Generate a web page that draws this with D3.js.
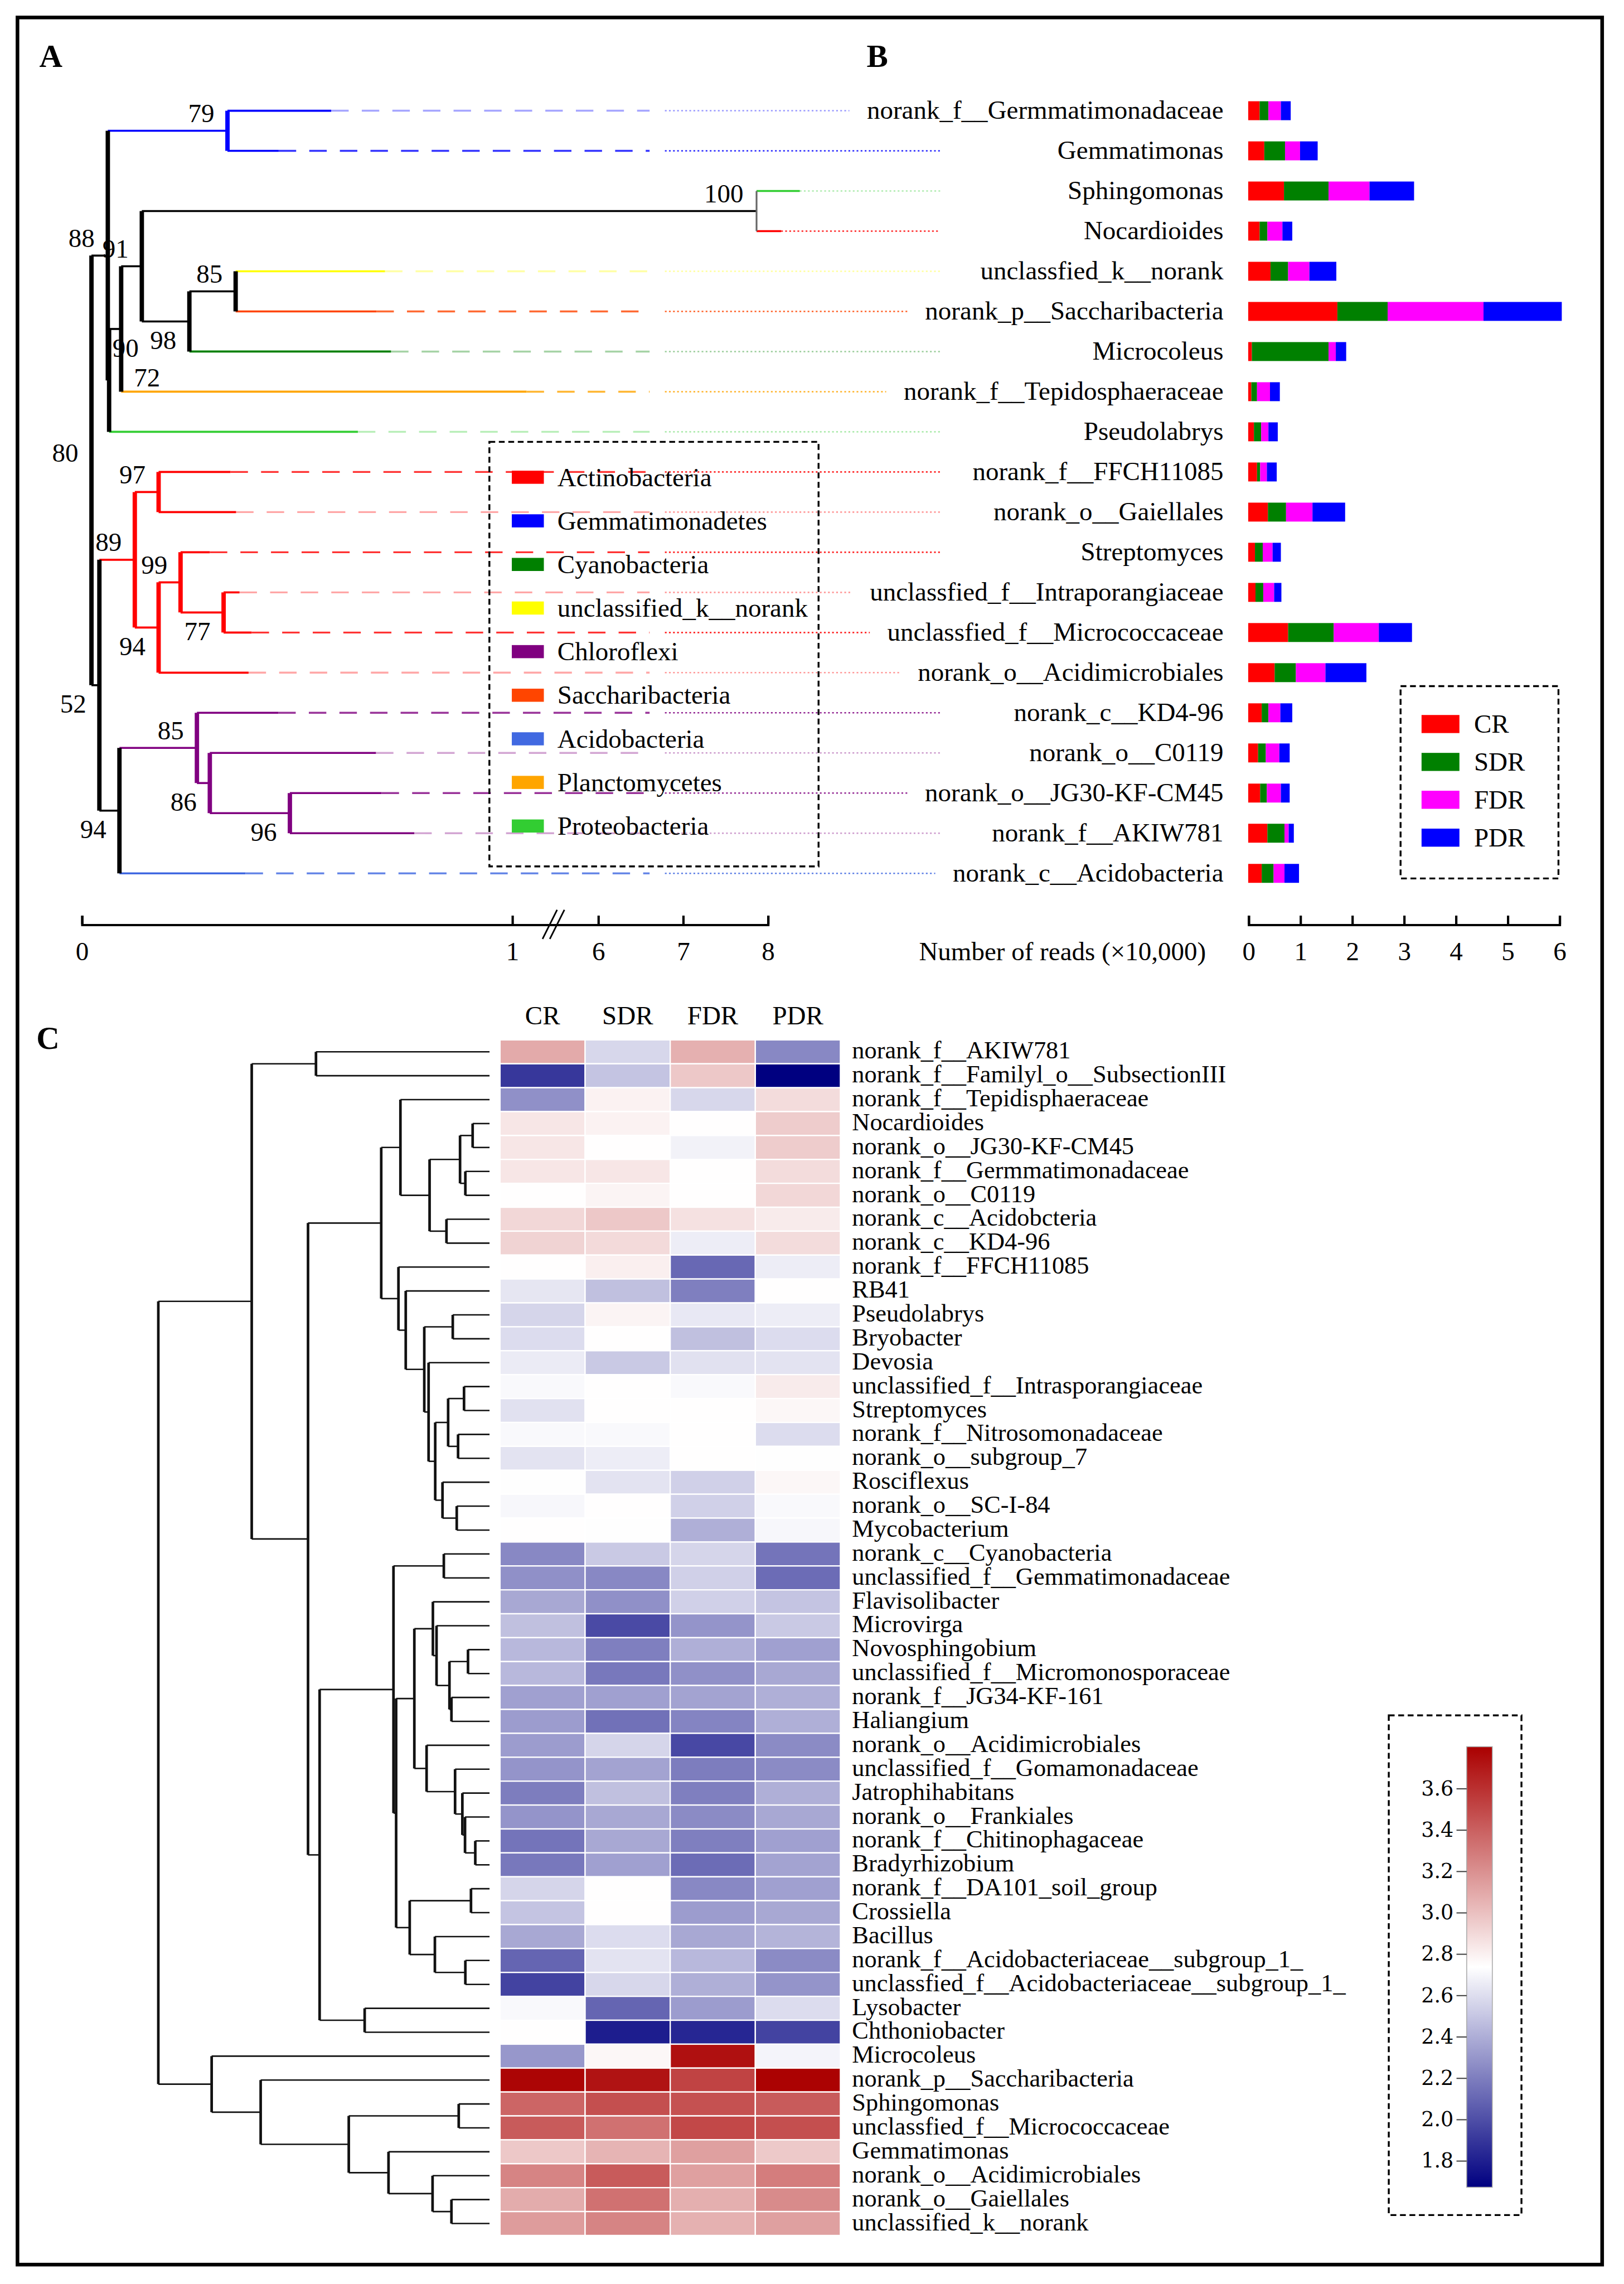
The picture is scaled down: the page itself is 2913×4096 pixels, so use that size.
<!DOCTYPE html>
<html>
<head>
<meta charset="utf-8">
<script src="https://d3js.org/d3.v7.min.js"></script>
<style>
body { margin: 0; background: #fff; }
svg text { font-family: "Liberation Serif", "Times New Roman", serif; }
</style>
</head>
<body>
<svg id="fig" width="2913" height="4096"></svg>
<script>
// ---------- data: panel A / B ----------
var phyla = ['Actinobacteria', 'Gemmatimonadetes', 'Cyanobacteria', 'unclassified_k__norank', 'Chloroflexi',
    'Saccharibacteria', 'Acidobacteria', 'Planctomycetes', 'Proteobacteria'];
var phylumColors = ['#ff0000', '#0000ff', '#008000', '#ffff00', '#800080', '#ff4500', '#4169e1', '#ffa500', '#32cd32'];

var genera = ['norank_f__Germmatimonadaceae', 'Gemmatimonas', 'Sphingomonas', 'Nocardioides', 'unclassfied_k__norank',
    'norank_p__Saccharibacteria', 'Microcoleus', 'norank_f__Tepidosphaeraceae', 'Pseudolabrys', 'norank_f__FFCH11085',
    'norank_o__Gaiellales', 'Streptomyces', 'unclassfied_f__Intraporangiaceae', 'unclassfied_f__Micrococcaceae',
    'norank_o__Acidimicrobiales', 'norank_c__KD4-96', 'norank_o__C0119', 'norank_o__JG30-KF-CM45',
    'norank_f__AKIW781', 'norank_c__Acidobacteria'];
var generaPhylum = [1, 1, 8, 0, 3, 5, 2, 7, 8, 0, 0, 0, 0, 0, 0, 4, 4, 4, 4, 6];

var treatments = ['CR', 'SDR', 'FDR', 'PDR'];
var treatColors = ['#ff0000', '#008000', '#ff00ff', '#0000ff'];
// number of reads (x10,000)
var readsCR  = [0.22, 0.31, 0.69, 0.22, 0.43, 1.72, 0.07, 0.06, 0.11, 0.17, 0.38, 0.13, 0.14, 0.77, 0.51, 0.26, 0.19, 0.23, 0.37, 0.26];
var readsSDR = [0.17, 0.40, 0.86, 0.15, 0.34, 0.97, 1.48, 0.11, 0.14, 0.06, 0.35, 0.15, 0.15, 0.88, 0.41, 0.13, 0.15, 0.13, 0.33, 0.23];
var readsFDR = [0.24, 0.29, 0.79, 0.29, 0.41, 1.85, 0.14, 0.25, 0.14, 0.13, 0.51, 0.19, 0.21, 0.87, 0.57, 0.23, 0.26, 0.27, 0.08, 0.21];
var readsPDR = [0.19, 0.34, 0.86, 0.19, 0.52, 1.51, 0.20, 0.19, 0.18, 0.19, 0.63, 0.16, 0.14, 0.64, 0.79, 0.23, 0.20, 0.17, 0.10, 0.28];

// phylogenetic tree: s = bootstrap, d = distance from origin, i = leaf row, lp = label placement
var treeA = {s: 80, d: 0.023, lp: 'a', c: [
    {s: 88, d: 0.061, lp: 'a', c: [
        {s: 79, d: 0.339, lp: 'a', c: [{i: 0, d: 0.580}, {i: 1, d: 0.458}]},
        {s: 72, d: 0.064, lp: 'r', c: [
            {s: 90, d: 0.092, lp: 'bm', c: [
                {s: 91, d: 0.140, lp: 'a', c: [
                    {s: 100, d: 7.87, lp: 'a', c: [{i: 2, d: 8.38}, {i: 3, d: 8.16}]},
                    {s: 98, d: 0.2505, lp: 'b', c: [
                        {s: 85, d: 0.358, lp: 'a', c: [{i: 4, d: 0.705}, {i: 5, d: 0.685}]},
                        {i: 6, d: 0.719}]}]},
                {i: 7, d: 1.85}]},
            {i: 8, d: 0.642}]}]},
    {s: 52, d: 0.0414, lp: 'b', c: [
        {s: 89, d: 0.1237, lp: 'a', c: [
            {s: 97, d: 0.179, lp: 'a', c: [{i: 9, d: 0.346}, {i: 10, d: 0.359}]},
            {s: 94, d: 0.179, lp: 'b', c: [
                {s: 99, d: 0.230, lp: 'a', c: [
                    {i: 11, d: 0.298},
                    {s: 77, d: 0.330, lp: 'b', c: [{i: 12, d: 0.367}, {i: 13, d: 0.395}]}]},
                {i: 14, d: 0.388}]}]},
        {s: 94, d: 0.088, lp: 'b', c: [
            {s: 85, d: 0.268, lp: 'a', c: [
                {i: 15, d: 0.457},
                {s: 86, d: 0.298, lp: 'b', c: [
                    {i: 16, d: 0.684},
                    {s: 96, d: 0.484, lp: 'b', c: [{i: 17, d: 0.697}, {i: 18, d: 0.773}]}]}]},
            {i: 19, d: 0.381}]}]}]};
var treeTicks = [0, 1, 6, 7, 8];
var readTicks = [0, 1, 2, 3, 4, 5, 6];

// ---------- data: panel C ----------
var heatRows = ['norank_f__AKIW781', 'norank_f__Familyl_o__SubsectionIII', 'norank_f__Tepidisphaeraceae', 'Nocardioides',
    'norank_o__JG30-KF-CM45', 'norank_f__Germmatimonadaceae', 'norank_o__C0119', 'norank_c__Acidobcteria',
    'norank_c__KD4-96', 'norank_f__FFCH11085', 'RB41', 'Pseudolabrys', 'Bryobacter', 'Devosia',
    'unclassified_f__Intrasporangiaceae', 'Streptomyces', 'norank_f__Nitrosomonadaceae', 'norank_o__subgroup_7',
    'Rosciflexus', 'norank_o__SC-I-84', 'Mycobacterium', 'norank_c__Cyanobacteria',
    'unclassified_f__Gemmatimonadaceae', 'Flavisolibacter', 'Microvirga', 'Novosphingobium',
    'unclassified_f__Micromonosporaceae', 'norank_f__JG34-KF-161', 'Haliangium', 'norank_o__Acidimicrobiales',
    'unclassified_f__Gomamonadaceae', 'Jatrophihabitans', 'norank_o__Frankiales', 'norank_f__Chitinophagaceae',
    'Bradyrhizobium', 'norank_f__DA101_soil_group', 'Crossiella', 'Bacillus',
    'norank_f__Acidobacteriaceae__subgroup_1_', 'unclassfied_f__Acidobacteriaceae__subgroup_1_', 'Lysobacter',
    'Chthoniobacter', 'Microcoleus', 'norank_p__Saccharibacteria', 'Sphingomonas', 'unclassfied_f__Micrococcaceae',
    'Gemmatimonas', 'norank_o__Acidimicrobiales', 'norank_o__Gaiellales', 'unclassified_k__norank'];
var heatCR  = [3.09, 1.90, 2.27, 2.84, 2.84, 2.84, 2.74, 2.90, 2.92, 2.74,
    2.63, 2.56, 2.59, 2.65, 2.71, 2.61, 2.71, 2.62, 2.73, 2.70,
    2.74, 2.24, 2.27, 2.37, 2.47, 2.44, 2.44, 2.34, 2.32, 2.32,
    2.29, 2.19, 2.29, 2.155, 2.17, 2.56, 2.49, 2.37, 2.09, 1.95,
    2.71, 2.74, 2.30, 3.78, 3.38, 3.42, 2.965, 3.25, 3.08, 3.15];
var heatSDR = [2.57, 2.49, 2.79, 2.79, 2.74, 2.84, 2.78, 2.965, 2.89, 2.80,
    2.47, 2.78, 2.74, 2.51, 2.74, 2.74, 2.71, 2.66, 2.62, 2.74,
    2.73, 2.51, 2.24, 2.27, 1.98, 2.20, 2.17, 2.34, 2.14, 2.56,
    2.35, 2.47, 2.37, 2.37, 2.34, 2.74, 2.74, 2.59, 2.62, 2.57,
    2.09, 1.79, 2.77, 3.72, 3.47, 3.33, 3.05, 3.42, 3.33, 3.25];
var heatFDR = [3.065, 2.965, 2.57, 2.74, 2.68, 2.74, 2.74, 2.86, 2.66, 2.105,
    2.20, 2.64, 2.47, 2.61, 2.71, 2.74, 2.74, 2.74, 2.54, 2.54,
    2.40, 2.56, 2.54, 2.54, 2.29, 2.40, 2.27, 2.35, 2.22, 1.97,
    2.19, 2.20, 2.25, 2.20, 2.12, 2.24, 2.32, 2.37, 2.44, 2.40,
    2.32, 1.83, 3.735, 3.52, 3.46, 3.50, 3.13, 3.13, 3.07, 3.06];
var heatPDR = [2.24, 1.67, 2.88, 2.95, 2.95, 2.88, 2.90, 2.82, 2.88, 2.66,
    2.74, 2.66, 2.59, 2.62, 2.82, 2.77, 2.59, 2.73, 2.77, 2.71,
    2.70, 2.155, 2.12, 2.49, 2.51, 2.34, 2.37, 2.40, 2.40, 2.25,
    2.25, 2.40, 2.37, 2.34, 2.35, 2.34, 2.37, 2.42, 2.25, 2.29,
    2.59, 1.95, 2.69, 3.79, 3.42, 3.47, 2.96, 3.28, 3.22, 3.13];
var colorTicks = [1.8, 2.0, 2.2, 2.4, 2.6, 2.8, 3.0, 3.2, 3.4, 3.6];

// row clustering: [height, left, right], leaves are row numbers
var denC =
[1.000,
 [0.718,
  [0.524, 0, 1],
  [0.548,
   [0.327,
    [0.269, 2, [0.181, [0.089, [0.051, 3, 4], [0.073, 5, 6]], [0.130, 7, 8]]],
    [0.275, 9, [0.253, 10, [0.197, [0.111, 11, 12], [0.184, 13, [0.164, [0.125, [0.077, 14, 15], [0.095, 16, 17]], [0.142, 18, [0.099, 19, 20]]]]]]]
   ],
   [0.513,
    [0.290, [0.138, 21, 22], [0.282, [0.227, [0.171, 23, [0.160, 24, [0.121, [0.065, 25, 26], [0.115, 27, 28]]]], [0.190, 29, [0.104, 30, [0.082, 31, [0.074, 32, [0.043, 33, 34]]]]]], [0.241, [0.056, 35, 36], [0.165, 37, [0.073, 38, 39]]]]],
    [0.377, 40, 41]
   ]
  ]
 ],
 [0.839, 42, [0.691, 43, [0.425, [0.093, 44, 45], [0.305, 46, [0.172, 47, [0.115, 48, 49]]]]]]
];

// ---------- setup ----------
var k = 2913 / 1115;
var svg = d3.select('#fig');
var g = svg.append('g').attr('transform', 'scale(' + k + ')');
var FS = 18;

g.append('rect')
    .attr('x', 12).attr('y', 12).attr('width', 1088).attr('height', 1542.5)
    .attr('fill', 'none').attr('stroke', '#000').attr('stroke-width', 2.5);

g.selectAll('text.panel').data([['A', 27, 46], ['B', 595, 46], ['C', 25, 720]]).join('text')
    .attr('class', 'panel')
    .attr('x', function (d) { return d[1]; }).attr('y', function (d) { return d[2]; })
    .attr('font-size', 22).attr('font-weight', 'bold')
    .text(function (d) { return d[0]; });

// ---------- panel B: stacked bars ----------
var yRow = d3.scalePoint().domain(d3.range(genera.length)).range([76, 599.5]);
var xReads = d3.scaleLinear().domain([0, 6]).range([857, 1070.5]);
var readCols = [readsCR, readsSDR, readsFDR, readsPDR];
var barData = genera.map(function (name, i) {
    var o = {name: name};
    treatments.forEach(function (t, j) { o[t] = readCols[j][i]; });
    return o;
});
var stacked = d3.stack().keys(treatments)(barData);

var bars = g.append('g');
bars.selectAll('g').data(stacked).join('g')
    .attr('fill', function (d, j) { return treatColors[j]; })
    .selectAll('rect').data(function (d) { return d; }).join('rect')
    .attr('x', function (d) { return xReads(d[0]); })
    .attr('width', function (d) { return xReads(d[1]) - xReads(d[0]); })
    .attr('y', function (d, i) { return yRow(i) - 6.5; })
    .attr('height', 13);

var labelLeft = [];
g.append('g').selectAll('text').data(genera).join('text')
    .attr('x', 840).attr('y', function (d, i) { return yRow(i) + 5.5; })
    .attr('text-anchor', 'end').attr('font-size', FS)
    .text(function (d) { return d; })
    .each(function (d, i) { labelLeft[i] = 840 - this.getComputedTextLength(); });

var axB = g.append('g').attr('transform', 'translate(0,634.5)')
    .call(d3.axisBottom(xReads).tickValues(readTicks).tickSizeInner(-6).tickSizeOuter(-6).tickPadding(12).tickFormat(d3.format('d')));
axB.attr('font-size', FS).attr('font-family', null);
axB.selectAll('path, line').attr('stroke-width', 1.6);

g.append('text').attr('x', 828).attr('y', 659).attr('text-anchor', 'end').attr('font-size', FS)
    .text('Number of reads (\u00D710,000)');

// legend B
g.append('rect').attr('x', 961.6).attr('y', 471).attr('width', 108.4).attr('height', 132)
    .attr('fill', 'none').attr('stroke', '#000').attr('stroke-width', 1.3).attr('stroke-dasharray', '4,2.5');
var yLegB = d3.scalePoint().domain(treatments).range([497, 575]);
var legB = g.append('g').selectAll('g').data(treatments).join('g')
    .attr('transform', function (d) { return 'translate(976,' + yLegB(d) + ')'; });
legB.append('rect').attr('x', 0).attr('y', -6.2).attr('width', 26).attr('height', 12.4)
    .attr('fill', function (d, j) { return treatColors[j]; });
legB.append('text').attr('x', 36).attr('y', 6).attr('font-size', FS).text(function (d) { return d; });

// ---------- panel A: tree ----------
var xTree = d3.scaleLinear().domain([0, 1, 6, 8]).range([56, 351.5, 410.5, 527]);
var root = d3.hierarchy(treeA, function (d) { return d.c; });
root.eachAfter(function (n) {
    n.x = xTree(n.data.d);
    if (n.children) {
        n.y = (n.children[0].y + n.children[n.children.length - 1].y) / 2;
        n.ph = new Set();
        n.children.forEach(function (c) { c.ph.forEach(function (p) { n.ph.add(p); }); });
    } else {
        n.y = yRow(n.data.i);
        n.ph = new Set([generaPhylum[n.data.i]]);
    }
    n.col = n.ph.size === 1 ? phylumColors[Array.from(n.ph)[0]] : '#000';
});
var nodes = root.descendants();
var leaves = root.leaves();
var tree = g.append('g');

// guide lines from tips to labels
var dashEnd = 446, dotStart = 456.5, dotMax = 645.5;
var guides = tree.append('g');
guides.selectAll('line.dash').data(leaves.filter(function (d) { return d.x < dashEnd; })).join('line')
    .attr('x1', function (d) { return d.x; }).attr('x2', dashEnd)
    .attr('y1', function (d) { return d.y; }).attr('y2', function (d) { return d.y; })
    .attr('stroke', function (d) { return d.col; })
    .attr('stroke-opacity', function (d) { return d.data.i % 2 === 0 ? 0.35 : 0.8; })
    .attr('stroke-width', 1.3).attr('stroke-dasharray', '12,9');
guides.selectAll('line.dot').data(leaves).join('line')
    .attr('x1', function (d) { return Math.max(dotStart, d.x); })
    .attr('x2', function (d) { return Math.min(dotMax, labelLeft[d.data.i] - 12); })
    .attr('y1', function (d) { return d.y; }).attr('y2', function (d) { return d.y; })
    .attr('stroke', function (d) { return d.col; })
    .attr('stroke-opacity', function (d) { return d.data.i % 2 === 0 ? 0.4 : 0.85; })
    .attr('stroke-width', 1).attr('stroke-dasharray', '1.2,1.6');

tree.selectAll('line.h').data(nodes.filter(function (d) { return d.parent; })).join('line')
    .attr('x1', function (d) { return d.parent.x; }).attr('x2', function (d) { return d.x; })
    .attr('y1', function (d) { return d.y; }).attr('y2', function (d) { return d.y; })
    .attr('stroke', function (d) { return d.col; }).attr('stroke-width', 1.4);
tree.selectAll('line.v').data(nodes.filter(function (d) { return d.children; })).join('line')
    .attr('x1', function (d) { return d.x; }).attr('x2', function (d) { return d.x; })
    .attr('y1', function (d) { return d.children[0].y; })
    .attr('y2', function (d) { return d.children[d.children.length - 1].y; })
    .attr('stroke', function (d) { return d.data.d > 1 ? '#666' : d.col; })
    .attr('stroke-width', function (d) { return d.data.d > 1 ? 1.2 : 3; });

tree.selectAll('text.sup').data(nodes.filter(function (d) { return d.data.s; })).join('text')
    .attr('font-size', FS)
    .attr('text-anchor', function (d) { return d.data.lp === 'r' ? 'start' : (d.data.lp === 'bm' ? 'middle' : 'end'); })
    .attr('x', function (d) {
        if (d.data.lp === 'r') return d.x + 17;
        if (d.data.lp === 'bm') return d.x + 3;
        return d.x - 9;
    })
    .attr('y', function (d) {
        if (d.data.lp === 'r') return d.y + 4;
        if (d.data.lp === 'a') return d.y - 6;
        return d.y + 19;
    })
    .text(function (d) { return d.data.s; });

// legend A
g.append('rect').attr('x', 336).attr('y', 303.3).attr('width', 226).attr('height', 291.4)
    .attr('fill', 'none').attr('stroke', '#000').attr('stroke-width', 1.3).attr('stroke-dasharray', '4,2.5');
var yLegA = d3.scalePoint().domain(phyla).range([327.6, 567]);
var legA = g.append('g').selectAll('g').data(phyla).join('g')
    .attr('transform', function (d) { return 'translate(351.4,' + yLegA(d) + ')'; });
legA.append('rect').attr('x', 0).attr('y', -4.5).attr('width', 22).attr('height', 9)
    .attr('fill', function (d, j) { return phylumColors[j]; });
legA.append('text').attr('x', 31.3).attr('y', 6).attr('font-size', FS).text(function (d) { return d; });

// axis A with break
var axA = g.append('g').attr('transform', 'translate(0,634.5)')
    .call(d3.axisBottom(xTree).tickValues(treeTicks).tickSizeInner(-6).tickSizeOuter(-6).tickPadding(12).tickFormat(d3.format('d')));
axA.attr('font-size', FS).attr('font-family', null);
axA.selectAll('path, line').attr('stroke-width', 1.6);
var brk = (xTree(1) + xTree(6)) / 2 - 1;
axA.selectAll('line.brk').data([-2.5, 2.5]).join('line')
    .attr('x1', function (d) { return brk + d - 5; }).attr('y1', 10)
    .attr('x2', function (d) { return brk + d + 5; }).attr('y2', -10)
    .attr('stroke', '#000').attr('stroke-width', 1.1);

// ---------- panel C: heatmap ----------
var yHeat = d3.scaleBand().domain(d3.range(heatRows.length)).range([713.8, 1534.5]);
var xHeat = d3.scaleBand().domain(treatments).range([343.3, 577]);
var heatCols = [heatCR, heatSDR, heatFDR, heatPDR];
var heatColor = d3.scaleLinear().domain([1.67, 2.735, 3.8]).range(['#000080', '#ffffff', '#aa0000']).clamp(true);
var bh = yHeat.bandwidth();

var cells = [];
heatRows.forEach(function (r, i) {
    treatments.forEach(function (t, j) { cells.push({row: i, col: t, v: heatCols[j][i]}); });
});
g.append('g').selectAll('rect').data(cells).join('rect')
    .attr('x', function (d) { return xHeat(d.col); }).attr('y', function (d) { return yHeat(d.row); })
    .attr('width', xHeat.bandwidth()).attr('height', bh)
    .attr('fill', function (d) { return heatColor(d.v); })
    .attr('stroke', '#fff').attr('stroke-width', 0.9);

g.append('g').selectAll('text').data(treatments).join('text')
    .attr('x', function (d) { return xHeat(d) + xHeat.bandwidth() / 2; }).attr('y', 703)
    .attr('text-anchor', 'middle').attr('font-size', FS).text(function (d) { return d; });

g.append('g').selectAll('text').data(heatRows).join('text')
    .attr('x', 585).attr('y', function (d, i) { return yHeat(i) + 12.8; })
    .attr('font-size', 17).text(function (d) { return d; });

// dendrogram
var xDen = d3.scaleLinear().domain([0, 1]).range([336.1, 108.7]);
var denH = [], denV = [];
function walk(n) {
    if (typeof n === 'number') return {y: yHeat(n) + bh / 2, h: 0};
    var a = walk(n[1]), b = walk(n[2]);
    denV.push({h: n[0], y1: a.y, y2: b.y});
    denH.push({h0: n[0], h1: a.h, y: a.y});
    denH.push({h0: n[0], h1: b.h, y: b.y});
    return {y: (a.y + b.y) / 2, h: n[0]};
}
walk(denC);
var den = g.append('g').attr('stroke', '#111');
den.selectAll('line.h').data(denH).join('line')
    .attr('x1', function (d) { return xDen(d.h0); }).attr('x2', function (d) { return xDen(d.h1); })
    .attr('y1', function (d) { return d.y; }).attr('y2', function (d) { return d.y; })
    .attr('stroke-width', 1);
den.selectAll('line.v').data(denV).join('line')
    .attr('x1', function (d) { return xDen(d.h); }).attr('x2', function (d) { return xDen(d.h); })
    .attr('y1', function (d) { return d.y1; }).attr('y2', function (d) { return d.y2; })
    .attr('stroke-width', 1.8);

// colour bar
g.append('rect').attr('x', 953.5).attr('y', 1177.5).attr('width', 91.1).attr('height', 343)
    .attr('fill', 'none').attr('stroke', '#000').attr('stroke-width', 1.3).attr('stroke-dasharray', '4,2.5');
var cbScale = d3.scaleLinear().domain([1.67, 3.8]).range([1501.4, 1199]);
var grad = svg.append('defs').append('linearGradient').attr('id', 'cbg')
    .attr('x1', 0).attr('y1', 1).attr('x2', 0).attr('y2', 0);
grad.selectAll('stop').data(d3.range(0, 1.0001, 0.05)).join('stop')
    .attr('offset', function (t) { return t; })
    .attr('stop-color', function (t) { return heatColor(1.67 + t * 2.13); });
g.append('rect').attr('x', 1007).attr('y', 1199).attr('width', 17.6).attr('height', 302.4)
    .attr('fill', 'url(#cbg)').attr('stroke', '#aaa').attr('stroke-width', 0.6);
var axCB = g.append('g').attr('transform', 'translate(1007,0)')
    .call(d3.axisLeft(cbScale).tickValues(colorTicks).tickSize(7).tickPadding(2).tickFormat(d3.format('.1f')));
axCB.select('.domain').remove();
axCB.attr('font-size', 14).attr('font-family', null);
axCB.selectAll('text').style('font-family', '"DejaVu Serif", serif');
axCB.selectAll('line').attr('stroke', '#444').attr('stroke-width', 0.8);
</script>
</body>
</html>
